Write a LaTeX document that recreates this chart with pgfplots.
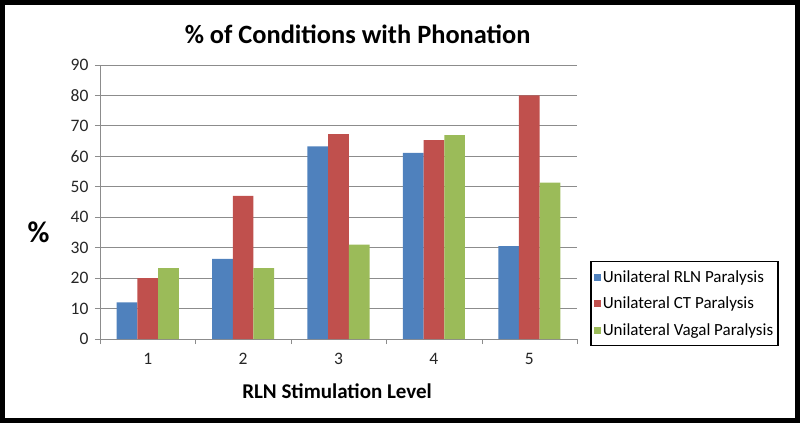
\documentclass[border=0pt]{standalone}
\usepackage{pgfplots}
\pgfplotsset{compat=1.18}
\usepackage{fontspec}
\setmainfont{Carlito}
\definecolor{xblue}{HTML}{4F81BD}
\definecolor{xred}{HTML}{C0504D}
\definecolor{xgreen}{HTML}{9BBB59}
\definecolor{xgrid}{HTML}{8C8C8C}
\begin{document}
\begin{tikzpicture}[x=1pt,y=1pt]
\begin{axis}[
  at={(0,0)}, anchor=south west,
  scale only axis, width=477pt, height=274pt,
  ybar=0pt, bar width=20.7pt,
  xmin=0.5, xmax=5.5, ymin=0, ymax=90,
  ytick={0,10,...,90},
  xtick={1,2,3,4,5},
  minor xtick={0.5,1.5,2.5,3.5,4.5,5.5},
  major x tick style={draw=none},
  minor x tick style={xgrid},
  tick align=outside,
  major tick length=5pt, minor tick length=5pt,
  ymajorgrids, grid style={xgrid, line width=0.9pt},
  axis line style={xgrid, line width=0.9pt},
  y tick style={xgrid, line width=0.9pt},
  axis x line*=bottom, axis y line*=left,
  /pgf/number format/assume math mode=true,
  tick label style={font=\fontsize{17.5}{20}\selectfont, text=black!85},
  yticklabel style={xshift=-3pt},
  xticklabel style={yshift=-6pt},
  title={\textbf{\% of Conditions with Phonation}},
  title style={font=\fontsize{26.4}{30}\selectfont, at={(0.54,1.091)}, anchor=center},
  xlabel={\textbf{RLN Stimulation Level}},
  xlabel style={font=\fontsize{21}{24}\selectfont, at={(0.497,-0.19)}, anchor=center},
  ylabel={\textbf{\%}},
  ylabel style={font=\fontsize{30}{32}\selectfont, rotate=-90, at={(-0.129,0.391)}, anchor=center},
  legend style={at={(1.0273,0.2847)}, anchor=north west, draw=black, line width=1.5pt,
    font=\fontsize{17}{19}\selectfont, row sep=9pt, inner xsep=3pt, inner ysep=7pt,
    /tikz/every even column/.append style={column sep=0pt}},
  legend cell align=left,
  legend image code/.code={\fill[#1, draw=none] (0pt,-3.5pt) rectangle (7pt,3.5pt);},
]
\addplot[fill=xblue, draw=none] coordinates {(1,12.0) (2,26.3) (3,63.3) (4,61.1) (5,30.5)};
\addplot[fill=xred, draw=none] coordinates {(1,20.0) (2,47.0) (3,67.3) (4,65.3) (5,80.0)};
\addplot[fill=xgreen, draw=none] coordinates {(1,23.3) (2,23.3) (3,31.0) (4,67.0) (5,51.4)};
\legend{Unilateral RLN Paralysis, Unilateral CT Paralysis, Unilateral Vagal Paralysis}
\end{axis}
\draw[line width=5pt, black] (-97.5,-81.5) rectangle (697.5,336.5);
\end{tikzpicture}
\end{document}
